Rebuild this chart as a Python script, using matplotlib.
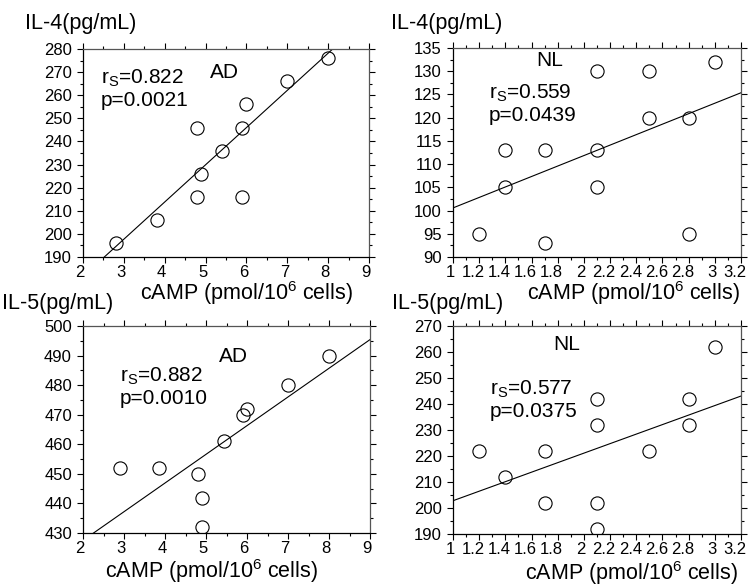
import matplotlib
matplotlib.use('Agg')
import matplotlib.pyplot as plt
import matplotlib.transforms as mtransforms
import numpy as np
from matplotlib.ticker import MultipleLocator, FormatStrFormatter

plt.rcParams['font.family'] = ['Liberation Sans', 'DejaVu Sans']
plt.rcParams['mathtext.fontset'] = 'custom'
plt.rcParams['mathtext.rm'] = 'Liberation Sans'
plt.rcParams['mathtext.default'] = 'rm'

# AD patients
ad_camp_il4 = [2.8, 3.8, 4.8, 4.8, 4.9, 5.4, 5.9, 5.9, 6.0, 7.0, 8.0]
ad_il4 = [196, 206, 246, 216, 226, 236, 246, 216, 256, 266, 276]
ad_camp_il5 = [2.9, 3.85, 4.8, 4.9, 4.9, 5.45, 5.9, 6.0, 7.0, 8.0]
ad_il5 = [452, 452, 450, 442, 432, 461, 470, 472, 480, 490]

# NL controls
nl_camp_il4 = [1.2, 1.4, 1.4, 1.7, 1.7, 2.1, 2.1, 2.1, 2.5, 2.5, 2.8, 2.8, 3.0]
nl_il4 = [95, 113, 105, 113, 93, 130, 113, 105, 130, 120, 120, 95, 132]
nl_camp_il5 = [1.2, 1.4, 1.7, 1.7, 2.1, 2.1, 2.1, 2.1, 2.5, 2.8, 2.8, 3.0]
nl_il5 = [222, 212, 222, 202, 242, 232, 202, 192, 222, 242, 232, 262]

# regression lines (intercept, slope)
fit_ad_il4 = (149.4, 16.1)
fit_nl_il4 = (89.3, 11.27)
fit_ad_il5 = (408.1, 9.70)
fit_nl_il5 = (184.5, 18.3)

stats = ['$r_S$=0.822\np=0.0021', '$r_S$=0.559\np=0.0439',
         '$r_S$=0.882\np=0.0010', '$r_S$=0.577\np=0.0375']

W, H = 749, 587
fig = plt.figure(figsize=(W / 100, H / 100), dpi=100)


def px(x, y):
    return x / W, 1 - y / H


def make_axes(l, r, t, b):
    return fig.add_axes([l / W, 1 - b / H, (r - l) / W, (b - t) / H])


panels = [
    # box px, x data, y data, fit, xlim, ylim, xstep, ystep
    ((83, 369, 49, 257), ad_camp_il4, ad_il4, fit_ad_il4, (2, 9), (190, 280), 1, 10),
    ((453, 741, 48, 257), nl_camp_il4, nl_il4, fit_nl_il4, (1, 3.2), (90, 135), 0.2, 5),
    ((83, 370, 326, 533), ad_camp_il5, ad_il5, fit_ad_il5, (2, 9), (430, 500), 1, 10),
    ((453, 741, 326, 534), nl_camp_il5, nl_il5, fit_nl_il5, (1, 3.2), (190, 270), 0.2, 10),
]

axes = []
for box, xs, ys, fit, xl, yl, xstep, ystep in panels:
    ax = make_axes(*box)
    ax.plot(xs, ys, 'o', mfc='none', mec='black', ms=9.5, mew=0.8)
    xx = np.array(xl)
    ax.plot(xx, fit[0] + fit[1] * xx, color='black', lw=0.8)
    ax.set_xlim(xl)
    ax.set_ylim(yl)
    ax.xaxis.set_major_locator(MultipleLocator(xstep))
    ax.xaxis.set_minor_locator(MultipleLocator(xstep / 2))
    ax.yaxis.set_major_locator(MultipleLocator(ystep))
    ax.yaxis.set_minor_locator(MultipleLocator(ystep / 2))
    ax.xaxis.set_major_formatter(FormatStrFormatter('%g'))
    ax.tick_params(which='both', direction='out', top=True, right=True,
                   width=0.8, labelsize=12)
    ax.tick_params(axis='x', which='major', length=4, pad=1.5)
    ax.tick_params(axis='y', which='major', length=4, pad=4)
    ax.tick_params(which='minor', length=2.5)
    for s in ['left', 'bottom']:
        ax.spines[s].set_linewidth(0.9)
    for s in ['top', 'right']:
        ax.spines[s].set_linewidth(0.9)
        ax.spines[s].set_color('#555555')
    axes.append(ax)

# y axis titles
fig.text(*px(25, 24), 'IL-4(pg/mL)', fontsize=15.5, ha='left', va='center')
fig.text(*px(391, 23), 'IL-4(pg/mL)', fontsize=15.5, ha='left', va='center')
fig.text(*px(2, 303), 'IL-5(pg/mL)', fontsize=15.5, ha='left', va='center')
fig.text(*px(392, 303), 'IL-5(pg/mL)', fontsize=15.5, ha='left', va='center')

# x axis titles
xlab = 'cAMP (pmol/10$^6$ cells)'
fig.text(*px(246, 300), xlab, fontsize=15.5, ha='center', va='baseline')
fig.text(*px(633, 300), xlab, fontsize=15.5, ha='center', va='baseline')
fig.text(*px(211, 578), xlab, fontsize=15.5, ha='center', va='baseline')
fig.text(*px(631, 580), xlab, fontsize=15.5, ha='center', va='baseline')

# group labels
fig.text(*px(224, 72), 'AD', fontsize=15, ha='center', va='center')
fig.text(*px(550, 60), 'NL', fontsize=15, ha='center', va='center')
fig.text(*px(233, 357), 'AD', fontsize=15, ha='center', va='center')
fig.text(*px(567, 345), 'NL', fontsize=15, ha='center', va='center')

# correlation statistics
stat_pos = [(101, 89), (489, 104), (120, 387), (490, 400)]
for (x, y), txt in zip(stat_pos, stats):
    fig.text(*px(x, y), txt, fontsize=15, ha='left', va='center',
             linespacing=1.1)

# nudge x tick labels left a little, as in the original print
fig.canvas.draw()
for ax in axes:
    for tick in ax.xaxis.get_major_ticks():
        lab = tick.label1
        dx = -6 if '.' in lab.get_text() else -3
        lab.set_transform(lab.get_transform() +
                          mtransforms.ScaledTranslation(dx / 100, 0, fig.dpi_scale_trans))

fig.savefig('out.png', dpi=100)
